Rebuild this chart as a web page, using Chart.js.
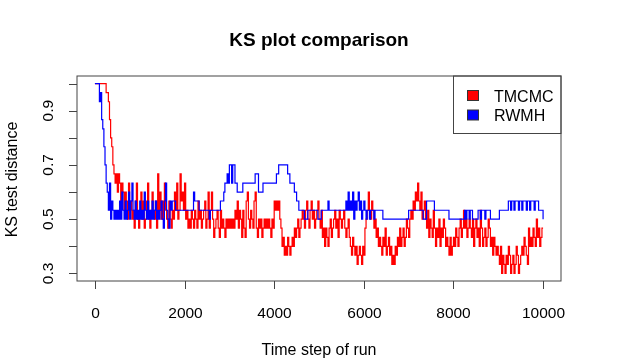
<!DOCTYPE html>
<html>
<head>
<meta charset="utf-8">
<title>KS plot comparison</title>
<script src="https://cdn.jsdelivr.net/npm/chart.js@4.4.1/dist/chart.umd.min.js"></script>
<style>
  html, body { margin: 0; padding: 0; background: #fff; }
  canvas { display: block; }
</style>
</head>
<body>
<canvas id="ksChart" width="637" height="359"></canvas>
<script>
// time grid of the run (every 25 steps, 0..10000)
const steps = Array.from({ length: 401 }, (_, i) => i * 25);

// KS test distance (one row = 500 time steps)
const tmcmc = [
  1, 1, 1, 1, 1, 1, 1, 1, 1, 1, 0.967, 0.967, 0.933, 0.867, 0.8, 0.767, 0.7, 0.667, 0.633, 0.667,
  0.6, 0.667, 0.633, 0.567, 0.633, 0.6, 0.533, 0.6, 0.567, 0.5, 0.633, 0.533, 0.567, 0.5, 0.533, 0.467, 0.567, 0.633, 0.5, 0.467,
  0.533, 0.6, 0.5, 0.567, 0.467, 0.5, 0.567, 0.633, 0.5, 0.467, 0.533, 0.6, 0.533, 0.5, 0.567, 0.467, 0.667, 0.533, 0.6, 0.5,
  0.567, 0.5, 0.633, 0.533, 0.5, 0.467, 0.567, 0.5, 0.467, 0.533, 0.5, 0.6, 0.533, 0.633, 0.5, 0.533, 0.667, 0.567, 0.6, 0.533,
  0.633, 0.5, 0.533, 0.467, 0.5, 0.467, 0.533, 0.5, 0.467, 0.533, 0.5, 0.467, 0.567, 0.5, 0.533, 0.467, 0.5, 0.533, 0.567, 0.467,
  0.5, 0.6, 0.467, 0.533, 0.6, 0.5, 0.433, 0.467, 0.5, 0.533, 0.467, 0.433, 0.533, 0.467, 0.5, 0.467, 0.433, 0.5, 0.467, 0.5,
  0.467, 0.5, 0.467, 0.5, 0.467, 0.533, 0.5, 0.567, 0.467, 0.533, 0.5, 0.433, 0.533, 0.467, 0.433, 0.567, 0.6, 0.5, 0.467, 0.533,
  0.5, 0.467, 0.567, 0.6, 0.467, 0.433, 0.5, 0.467, 0.5, 0.433, 0.467, 0.5, 0.467, 0.5, 0.467, 0.5, 0.467, 0.433, 0.5, 0.467,
  0.567, 0.533, 0.567, 0.533, 0.567, 0.5, 0.467, 0.4, 0.433, 0.367, 0.4, 0.367, 0.433, 0.4, 0.367, 0.4, 0.433, 0.4, 0.467, 0.433,
  0.467, 0.5, 0.433, 0.467, 0.5, 0.533, 0.5, 0.467, 0.533, 0.567, 0.5, 0.467, 0.533, 0.567, 0.5, 0.533, 0.467, 0.5, 0.533, 0.567,
  0.5, 0.467, 0.533, 0.433, 0.467, 0.4, 0.467, 0.433, 0.4, 0.467, 0.5, 0.433, 0.467, 0.5, 0.533, 0.467, 0.5, 0.433, 0.533, 0.5,
  0.467, 0.5, 0.533, 0.467, 0.433, 0.467, 0.5, 0.433, 0.4, 0.367, 0.433, 0.4, 0.367, 0.4, 0.333, 0.367, 0.4, 0.367, 0.333, 0.4,
  0.367, 0.467, 0.5, 0.533, 0.6, 0.533, 0.5, 0.567, 0.533, 0.467, 0.5, 0.433, 0.467, 0.4, 0.433, 0.4, 0.367, 0.433, 0.4, 0.467,
  0.367, 0.4, 0.433, 0.367, 0.4, 0.333, 0.367, 0.333, 0.4, 0.367, 0.433, 0.4, 0.467, 0.4, 0.433, 0.467, 0.4, 0.433, 0.5, 0.467,
  0.433, 0.5, 0.533, 0.5, 0.567, 0.533, 0.6, 0.567, 0.633, 0.567, 0.533, 0.6, 0.5, 0.533, 0.567, 0.5, 0.467, 0.533, 0.433, 0.5,
  0.467, 0.433, 0.533, 0.467, 0.4, 0.467, 0.433, 0.5, 0.4, 0.467, 0.433, 0.5, 0.467, 0.4, 0.433, 0.4, 0.367, 0.433, 0.367, 0.4,
  0.433, 0.4, 0.467, 0.433, 0.4, 0.467, 0.5, 0.433, 0.467, 0.533, 0.467, 0.5, 0.433, 0.467, 0.5, 0.467, 0.433, 0.5, 0.4, 0.467,
  0.5, 0.433, 0.467, 0.4, 0.533, 0.467, 0.4, 0.433, 0.467, 0.4, 0.433, 0.5, 0.467, 0.4, 0.433, 0.367, 0.433, 0.4, 0.367, 0.4,
  0.367, 0.333, 0.4, 0.3, 0.367, 0.333, 0.3, 0.367, 0.333, 0.4, 0.367, 0.3, 0.333, 0.367, 0.3, 0.333, 0.4, 0.367, 0.3, 0.333,
  0.367, 0.4, 0.367, 0.433, 0.4, 0.367, 0.333, 0.467, 0.4, 0.433, 0.4, 0.467, 0.433, 0.4, 0.5, 0.433, 0.467, 0.4, 0.433, 0.467,
  0.467
];

const rwmh = [
  1, 1, 1, 1, 0.933, 0.967, 0.867, 0.833, 0.767, 0.7, 0.633, 0.6, 0.533, 0.633, 0.5, 0.567, 0.533, 0.5, 0.533, 0.5,
  0.533, 0.5, 0.567, 0.5, 0.6, 0.533, 0.5, 0.567, 0.5, 0.533, 0.6, 0.5, 0.567, 0.633, 0.533, 0.5, 0.567, 0.5, 0.533, 0.5,
  0.567, 0.5, 0.533, 0.5, 0.6, 0.533, 0.5, 0.567, 0.5, 0.533, 0.5, 0.567, 0.5, 0.533, 0.567, 0.5, 0.533, 0.5, 0.533, 0.567,
  0.5, 0.467, 0.567, 0.633, 0.533, 0.5, 0.467, 0.567, 0.533, 0.567, 0.567, 0.567, 0.533, 0.533, 0.533, 0.533, 0.533, 0.533, 0.533, 0.533,
  0.533, 0.533, 0.533, 0.533, 0.533, 0.533, 0.533, 0.533, 0.6, 0.567, 0.567, 0.567, 0.567, 0.533, 0.533, 0.533, 0.533, 0.533, 0.533, 0.533,
  0.533, 0.533, 0.5, 0.533, 0.533, 0.533, 0.533, 0.533, 0.533, 0.533, 0.533, 0.533, 0.567, 0.567, 0.567, 0.6, 0.633, 0.633, 0.667, 0.633,
  0.7, 0.7, 0.633, 0.7, 0.7, 0.633, 0.633, 0.6, 0.6, 0.6, 0.6, 0.6, 0.633, 0.633, 0.633, 0.633, 0.633, 0.633, 0.633, 0.633,
  0.633, 0.633, 0.633, 0.667, 0.667, 0.667, 0.6, 0.6, 0.6, 0.6, 0.633, 0.633, 0.633, 0.633, 0.633, 0.633, 0.633, 0.633, 0.633, 0.633,
  0.633, 0.633, 0.667, 0.667, 0.7, 0.7, 0.7, 0.7, 0.7, 0.7, 0.7, 0.7, 0.667, 0.667, 0.633, 0.633, 0.633, 0.633, 0.6, 0.6,
  0.567, 0.567, 0.533, 0.533, 0.533, 0.533, 0.533, 0.5, 0.5, 0.5, 0.533, 0.533, 0.533, 0.533, 0.533, 0.533, 0.533, 0.533, 0.533, 0.5,
  0.5, 0.5, 0.533, 0.533, 0.533, 0.533, 0.533, 0.533, 0.567, 0.533, 0.533, 0.533, 0.533, 0.533, 0.533, 0.533, 0.533, 0.533, 0.533, 0.533,
  0.533, 0.533, 0.533, 0.533, 0.567, 0.533, 0.6, 0.533, 0.567, 0.533, 0.6, 0.5, 0.567, 0.533, 0.567, 0.6, 0.533, 0.567, 0.5, 0.533,
  0.567, 0.533, 0.5, 0.533, 0.533, 0.5, 0.533, 0.533, 0.533, 0.5, 0.533, 0.533, 0.533, 0.533, 0.533, 0.533, 0.533, 0.5, 0.5, 0.5,
  0.5, 0.5, 0.5, 0.5, 0.5, 0.5, 0.5, 0.5, 0.5, 0.5, 0.5, 0.5, 0.5, 0.5, 0.5, 0.5, 0.5, 0.5, 0.5, 0.5,
  0.533, 0.533, 0.533, 0.533, 0.533, 0.533, 0.533, 0.533, 0.533, 0.533, 0.533, 0.533, 0.533, 0.5, 0.5, 0.5, 0.567, 0.567, 0.567, 0.567,
  0.567, 0.567, 0.567, 0.533, 0.533, 0.533, 0.533, 0.533, 0.533, 0.533, 0.533, 0.533, 0.533, 0.533, 0.533, 0.533, 0.5, 0.5, 0.5, 0.5,
  0.5, 0.5, 0.5, 0.5, 0.5, 0.5, 0.5, 0.5, 0.5, 0.5, 0.533, 0.5, 0.533, 0.533, 0.5, 0.533, 0.533, 0.5, 0.5, 0.5,
  0.5, 0.5, 0.533, 0.533, 0.5, 0.533, 0.533, 0.533, 0.5, 0.533, 0.533, 0.533, 0.533, 0.5, 0.5, 0.5, 0.5, 0.5, 0.5, 0.5,
  0.5, 0.533, 0.533, 0.533, 0.533, 0.533, 0.533, 0.533, 0.533, 0.567, 0.567, 0.533, 0.567, 0.567, 0.533, 0.567, 0.567, 0.567, 0.533, 0.567,
  0.567, 0.533, 0.567, 0.567, 0.567, 0.533, 0.567, 0.567, 0.533, 0.567, 0.567, 0.567, 0.533, 0.567, 0.567, 0.567, 0.533, 0.533, 0.533, 0.533,
  0.5
];

const xTicks = [0, 2000, 4000, 6000, 8000, 10000];
const yTicks = [0.3, 0.4, 0.5, 0.6, 0.7, 0.8, 0.9, 1.0];
const yLabels = [0.3, 0.5, 0.7, 0.9];
const seriesNames = ['TMCMC', 'RWMH'];
const seriesColors = ['#ff0000', '#0000ff'];

const FONT = '"Liberation Sans", Arial, Helvetica, sans-serif';

// base-graphics style frame, axes, titles and legend
const rFrame = {
  id: 'rFrame',
  afterDraw(chart) {
    const ctx = chart.ctx;
    const a = chart.chartArea;
    const xs = chart.scales.x;
    const ys = chart.scales.y;

    ctx.save();
    ctx.strokeStyle = '#444';
    ctx.lineWidth = 1;
    ctx.strokeRect(a.left, a.top, a.right - a.left, a.bottom - a.top);

    // x axis
    ctx.fillStyle = '#000';
    ctx.font = '15.5px ' + FONT;
    ctx.textAlign = 'center';
    ctx.textBaseline = 'alphabetic';
    xTicks.forEach(t => {
      const px = Math.round(xs.getPixelForValue(t)) + 0.5;
      ctx.beginPath();
      ctx.moveTo(px, a.bottom);
      ctx.lineTo(px, a.bottom + 8);
      ctx.stroke();
      ctx.fillText(String(t), px, 317.5);
    });

    // y axis
    yTicks.forEach(v => {
      const py = Math.round(ys.getPixelForValue(v)) + 0.5;
      ctx.beginPath();
      ctx.moveTo(a.left - 8, py);
      ctx.lineTo(a.left, py);
      ctx.stroke();
    });
    yLabels.forEach(v => {
      const py = ys.getPixelForValue(v);
      ctx.save();
      ctx.translate(53, py);
      ctx.rotate(-Math.PI / 2);
      ctx.fillText(v.toFixed(1), 0, 0);
      ctx.restore();
    });

    // axis titles
    const cx = (a.left + a.right) / 2;
    const cy = (a.top + a.bottom) / 2;
    ctx.font = '16px ' + FONT;
    ctx.fillText('Time step of run', cx, 355);
    ctx.save();
    ctx.translate(16.5, cy + 1);
    ctx.rotate(-Math.PI / 2);
    ctx.fillText('KS test distance', 0, 0);
    ctx.restore();

    // main title
    ctx.font = 'bold 19px ' + FONT;
    ctx.fillText('KS plot comparison', cx, 45.5);

    // legend
    const lx = 453.5;
    const lb = 133.5;
    ctx.strokeStyle = '#444';
    ctx.strokeRect(lx, a.top, a.right - lx, lb - a.top);
    ctx.font = '16px ' + FONT;
    ctx.textAlign = 'left';
    seriesNames.forEach((name, i) => {
      const y = 95.5 + i * 19.5;
      ctx.fillStyle = seriesColors[i];
      ctx.fillRect(467.5, y - 5, 11, 10);
      ctx.strokeStyle = '#333';
      ctx.strokeRect(467.5, y - 5, 11, 10);
      ctx.fillStyle = '#000';
      ctx.fillText(name, 494, y + 6);
    });
    ctx.restore();
  }
};

new Chart(document.getElementById('ksChart'), {
  type: 'line',
  data: {
    datasets: [
      {
        label: seriesNames[1],
        data: steps.map((t, i) => ({ x: t, y: rwmh[i] })),
        borderColor: seriesColors[1],
        borderWidth: 1.2,
        pointRadius: 0,
        stepped: true,
        fill: false
      },
      {
        label: seriesNames[0],
        data: steps.map((t, i) => ({ x: t, y: tmcmc[i] })),
        borderColor: seriesColors[0],
        borderWidth: 1.2,
        pointRadius: 0,
        stepped: true,
        fill: false
      }
    ]
  },
  options: {
    responsive: false,
    devicePixelRatio: 1,
    animation: false,
    layout: { padding: { left: 77, right: 76, top: 76, bottom: 78 } },
    plugins: {
      legend: { display: false },
      title: { display: false },
      tooltip: { enabled: false }
    },
    scales: {
      x: { type: 'linear', display: false, min: -400, max: 10400 },
      y: { type: 'linear', display: false, min: 0.272, max: 1.028 }
    }
  },
  plugins: [rFrame]
});
</script>
</body>
</html>
